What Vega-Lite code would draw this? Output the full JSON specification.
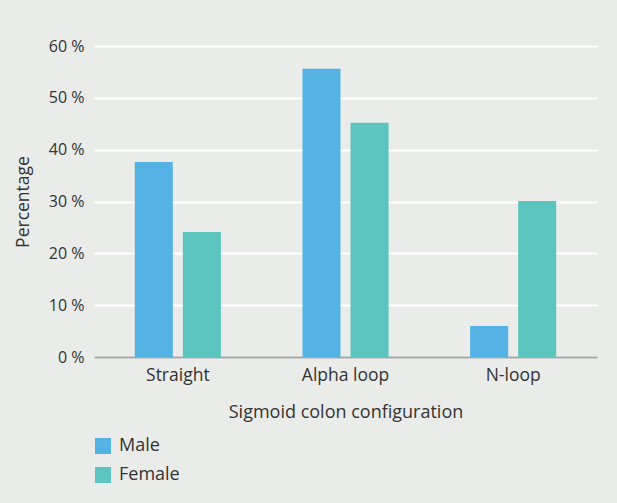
{
  "$schema": "https://vega.github.io/schema/vega-lite/v6.json",
  "autosize": {"type": "none"},
  "width": 503,
  "height": 311,
  "padding": {"left": 94, "top": 46, "right": 20, "bottom": 146},
  "background": "#eaecea",
  "data": {
    "values": [
      {"config": "Straight", "sex": "Male", "pct": 37.6},
      {"config": "Straight", "sex": "Female", "pct": 24.1},
      {"config": "Alpha loop", "sex": "Male", "pct": 55.6},
      {"config": "Alpha loop", "sex": "Female", "pct": 45.2},
      {"config": "N-loop", "sex": "Male", "pct": 6.0},
      {"config": "N-loop", "sex": "Female", "pct": 30.1}
    ]
  },
  "mark": {"type": "bar"},
  "encoding": {
    "x": {
      "field": "config",
      "type": "nominal",
      "sort": ["Straight", "Alpha loop", "N-loop"],
      "scale": {"paddingInner": 0, "paddingOuter": 0},
      "axis": {
        "title": "Sigmoid colon configuration",
        "labelAngle": 0,
        "ticks": false,
        "labelPadding": 9,
        "labelFontSize": 17.5,
        "titleFontSize": 18,
        "titlePadding": 20,
        "domainColor": "#a4a6a8",
        "domainWidth": 2,
        "grid": false
      }
    },
    "xOffset": {
      "field": "sex",
      "type": "nominal",
      "sort": ["Male", "Female"],
      "scale": {"paddingInner": 0.208, "paddingOuter": 0.849}
    },
    "y": {
      "field": "pct",
      "type": "quantitative",
      "scale": {"domain": [0, 60]},
      "axis": {
        "title": "Percentage",
        "values": [0, 10, 20, 30, 40, 50, 60],
        "labelExpr": "datum.value + ' %'",
        "ticks": false,
        "domain": false,
        "labelPadding": 10,
        "titleFontSize": 17.5,
        "titlePadding": 16,
        "gridColor": "#ffffff",
        "gridWidth": 2,
        "gridOpacity": 1
      }
    },
    "color": {
      "field": "sex",
      "type": "nominal",
      "sort": ["Male", "Female"],
      "scale": {"domain": ["Male", "Female"], "range": ["#54b3e4", "#5cc4be"]},
      "legend": {
        "title": null,
        "orient": "none",
        "legendX": 0,
        "legendY": 391,
        "symbolType": "square",
        "symbolSize": 256,
        "symbolStrokeWidth": 0,
        "symbolOpacity": 1,
        "labelFontSize": 18,
        "labelColor": "#333333",
        "labelFont": "Open Sans",
        "rowPadding": 11,
        "labelOffset": 7
      }
    }
  },
  "config": {
    "view": {"stroke": null},
    "axis": {
      "labelFont": "Open Sans",
      "titleFont": "Open Sans",
      "labelFontSize": 16,
      "titleFontSize": 16,
      "titleFontWeight": "normal",
      "labelColor": "#333333",
      "titleColor": "#333333"
    }
  }
}
